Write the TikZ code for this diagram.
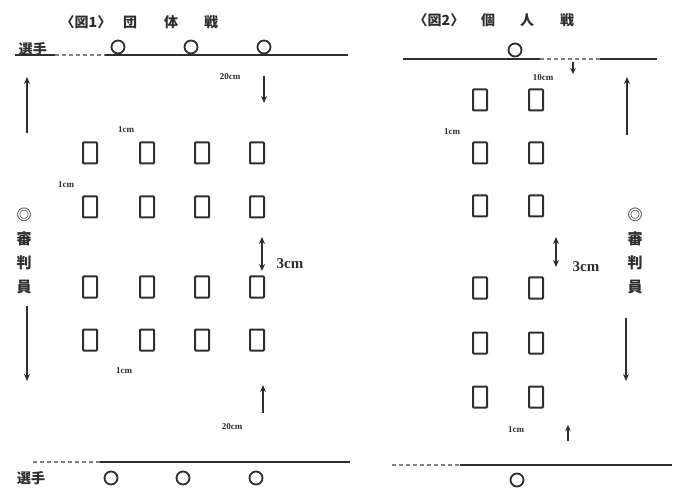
\documentclass[tikz,border=0pt]{standalone}
\usepackage{fontspec}
\setmainfont{Liberation Serif}
\newfontfamily\jp{Noto Sans CJK JP}
\usetikzlibrary{arrows.meta}
\definecolor{ink}{HTML}{2E2E2E}
\begin{document}
\begin{tikzpicture}[x=1pt,y=-1pt,
  seat/.style={draw=ink,line width=2pt,rounded corners=0.7pt,minimum width=14pt,minimum height=21pt,inner sep=0pt},
  player/.style={circle,draw=ink,line width=1.8pt,minimum size=13pt,inner sep=0pt},
  lbl/.style={font=\bfseries\fontsize{9}{9}\selectfont,text=ink,inner sep=0pt},
  biglbl/.style={font=\bfseries\fontsize{15}{15}\selectfont,text=ink,inner sep=0pt},
  jpt/.style={font=\jp\bfseries\fontsize{14}{14}\selectfont,text=ink,inner sep=0pt},
  judge/.style={font=\jp\bfseries\fontsize{15}{24}\selectfont,text=ink,inner sep=0pt,align=center},
  arr/.style={line width=1.8pt,draw=ink,-{Stealth[length=7pt,width=6pt]}},
  darr/.style={line width=1.8pt,draw=ink,{Stealth[length=7pt,width=6pt]}-{Stealth[length=7pt,width=6pt]}},
  sarr/.style={line width=1.6pt,draw=ink,-{Stealth[length=6pt,width=5.5pt]}},
  court/.style={line width=1.8pt,draw=ink},
  faint/.style={line width=1.4pt,draw=ink!60,dash pattern=on 4pt off 3pt}
]
\useasboundingbox (0,0) rectangle (675,489);
\fill[white] (0,0) rectangle (675,489);

% ---------- Figure 1 (team match) ----------
\node[jpt] (t1a) at (86,22) {〈図1〉};
\node[jpt] (t1b) at (130,22) {団};
\node[jpt] (t1c) at (171,22) {体};
\node[jpt] (t1d) at (211,22) {戦};

\node[jpt] (p1top) at (33,49) {選手};
\coordinate (l1a) at (15,55);
\coordinate (l1b) at (55,55);
\coordinate (l1c) at (105,55);
\coordinate (l1d) at (348,55);
\draw[court] (l1a) -- (l1b);
\draw[faint] (l1b) -- (l1c);
\draw[court] (l1c) -- (l1d);
\node[player] (c1) at (118,47) {};
\node[player] (c2) at (191,47) {};
\node[player] (c3) at (264,47) {};

\foreach \c/\x in {1/90,2/147,3/202,4/257}
  \foreach \r/\y in {1/153,2/207,3/287,4/340}
    \node[seat] (L\r\c) at (\x,\y) {};

\node[lbl] (d20a) at (230,77) {20cm};
\coordinate (a1s) at (264,76); \coordinate (a1e) at (264,103);
\draw[arr] (a1s) -- (a1e);

\node[lbl] (d1a) at (126,130) {1cm};
\node[lbl] (d1b) at (66,185) {1cm};
\node[lbl] (d1c) at (124,371) {1cm};

\coordinate (a2s) at (262,237); \coordinate (a2e) at (262,271);
\draw[darr] (a2s) -- (a2e);
\node[biglbl] (d3a) at (290,264) {3cm};

\coordinate (a3s) at (263,413); \coordinate (a3e) at (263,385);
\draw[arr] (a3s) -- (a3e);
\node[lbl] (d20b) at (232,427) {20cm};

\coordinate (jl1) at (27,133); \coordinate (jl2) at (27,77);
\draw[arr] (jl1) -- (jl2);
\node[judge] (judgeL) at (24,251) {◎\\審\\判\\員};
\coordinate (jl3) at (27,306); \coordinate (jl4) at (27,381);
\draw[arr] (jl3) -- (jl4);

\coordinate (l2a) at (33,462);
\coordinate (l2b) at (100,462);
\coordinate (l2c) at (350,462);
\draw[faint] (l2a) -- (l2b);
\draw[court] (l2b) -- (l2c);
\node[jpt] (p1bot) at (31,478) {選手};
\node[player] (c4) at (111,478) {};
\node[player] (c5) at (183,478) {};
\node[player] (c6) at (256,478) {};

% ---------- Figure 2 (individual match) ----------
\node[jpt] (t2a) at (439,20) {〈図2〉};
\node[jpt] (t2b) at (488,20) {個};
\node[jpt] (t2c) at (527,20) {人};
\node[jpt] (t2d) at (567,20) {戦};

\coordinate (r1a) at (403,59);
\coordinate (r1b) at (540,59);
\coordinate (r1c) at (600,59);
\coordinate (r1d) at (657,59);
\draw[court] (r1a) -- (r1b);
\draw[faint] (r1b) -- (r1c);
\draw[court] (r1c) -- (r1d);
\node[player] (c7) at (515,50) {};

\node[lbl] (d10) at (543,78) {10cm};
\coordinate (b1s) at (573,62); \coordinate (b1e) at (573,74);
\draw[sarr] (b1s) -- (b1e);

\foreach \c/\x in {1/480,2/536}
  \foreach \r/\y in {1/100,2/153,3/206,4/288,5/343,6/397}
    \node[seat] (R\r\c) at (\x,\y) {};

\node[lbl] (d1d) at (452,132) {1cm};

\coordinate (b2s) at (556,237); \coordinate (b2e) at (556,267);
\draw[darr] (b2s) -- (b2e);
\node[biglbl] (d3b) at (586,267) {3cm};

\coordinate (jr1) at (627,135); \coordinate (jr2) at (627,77);
\draw[arr] (jr1) -- (jr2);
\node[judge] (judgeR) at (635,251) {◎\\審\\判\\員};
\coordinate (jr3) at (626,318); \coordinate (jr4) at (626,381);
\draw[arr] (jr3) -- (jr4);

\node[lbl] (d1e) at (516,430) {1cm};
\coordinate (b3s) at (568,441); \coordinate (b3e) at (568,425);
\draw[sarr] (b3s) -- (b3e);

\coordinate (r2a) at (392,465);
\coordinate (r2b) at (460,465);
\coordinate (r2c) at (672,465);
\draw[faint] (r2a) -- (r2b);
\draw[court] (r2b) -- (r2c);
\node[player] (c8) at (517,480) {};
\end{tikzpicture}
\end{document}
